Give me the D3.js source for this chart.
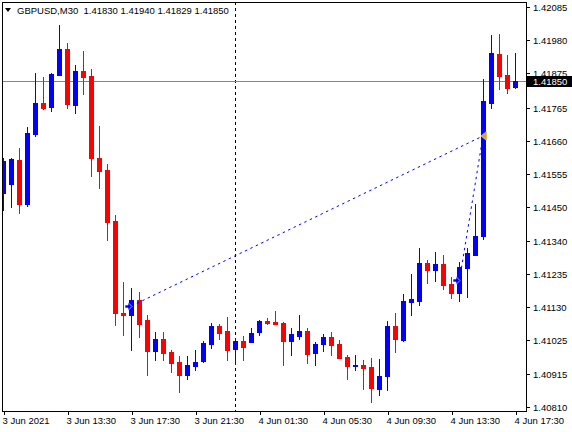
<!DOCTYPE html>
<html><head><meta charset="utf-8">
<script src="https://cdnjs.cloudflare.com/ajax/libs/d3/7.8.5/d3.min.js"></script>
<style>
html,body{margin:0;padding:0;background:#fff;}
svg{display:block;font-family:"Liberation Sans",Arial,sans-serif;}
</style></head>
<body><svg id="c" width="572" height="432"></svg>
<script>
// ---- data ----
const symbol = "GBPUSD,M30";
const xLabels = ["3 Jun 2021","3 Jun 13:30","3 Jun 17:30","3 Jun 21:30","4 Jun 01:30","4 Jun 05:30","4 Jun 09:30","4 Jun 13:30","4 Jun 17:30"];
const yTickLabels = ["1.42085","1.41980","1.41875","1.41765","1.41660","1.41555","1.41450","1.41340","1.41235","1.41130","1.41025","1.40915","1.40810"];
const open  = [1.41493,1.41522,1.41598,1.41458,1.41681,1.41780,1.41767,1.41869,1.41952,1.41774,1.41882,1.41866,1.41605,1.41566,1.41404,1.41111,1.41104,1.41152,1.41088,1.40990,1.41028,1.40986,1.40954,1.40913,1.40942,1.40958,1.41012,1.41069,1.41053,1.40996,1.41021,1.41018,1.41050,1.41085,1.41082,1.41079,1.41021,1.41037,1.41053,1.40983,1.41012,1.41034,1.41012,1.40970,1.40942,1.40945,1.40938,1.40868,1.40910,1.41069,1.41025,1.41146,1.41149,1.41270,1.41248,1.41267,1.41203,1.41174,1.41254,1.41296,1.41356,1.41780,1.41936,1.41869,1.41830];
const high  = [1.41605,1.41605,1.41637,1.41703,1.41876,1.41863,1.41876,1.42029,1.41971,1.41901,1.41946,1.41888,1.41707,1.41586,1.41423,1.41209,1.41190,1.41178,1.41104,1.41050,1.41050,1.40993,1.40974,1.40974,1.40993,1.41021,1.41079,1.41076,1.41098,1.41031,1.41037,1.41063,1.41088,1.41095,1.41117,1.41082,1.41063,1.41104,1.41063,1.41018,1.41044,1.41050,1.41025,1.40977,1.40977,1.40961,1.40967,1.40964,1.41085,1.41111,1.41171,1.41235,1.41318,1.41280,1.41305,1.41296,1.41225,1.41273,1.41318,1.41458,1.41856,1.41997,1.42000,1.41933,1.41940];
const low   = [1.41439,1.41448,1.41429,1.41452,1.41675,1.41761,1.41754,1.41869,1.41764,1.41748,1.41809,1.41547,1.41509,1.41343,1.41072,1.41040,1.40993,1.41034,1.40913,1.40961,1.40961,1.40923,1.40859,1.40900,1.40929,1.40954,1.40999,1.41028,1.40961,1.40948,1.40961,1.41018,1.41040,1.41076,1.41076,1.40945,1.40977,1.41028,1.40951,1.40945,1.40990,1.40977,1.40967,1.40900,1.40929,1.40868,1.40827,1.40849,1.40865,1.40986,1.41021,1.41104,1.41136,1.41206,1.41213,1.41187,1.41158,1.41149,1.41162,1.41296,1.41346,1.41764,1.41825,1.41812,1.41829];
const close = [1.41595,1.41601,1.41458,1.41684,1.41780,1.41764,1.41872,1.41952,1.41777,1.41882,1.41863,1.41605,1.41563,1.41401,1.41111,1.41104,1.41152,1.41076,1.40990,1.41028,1.40983,1.40951,1.40913,1.40945,1.40954,1.41015,1.41069,1.41047,1.40993,1.41021,1.41002,1.41047,1.41085,1.41079,1.41076,1.41021,1.41044,1.41053,1.40980,1.41012,1.41034,1.41009,1.40967,1.40942,1.40945,1.40935,1.40872,1.40910,1.41069,1.41028,1.41149,1.41155,1.41270,1.41248,1.41267,1.41200,1.41174,1.41257,1.41302,1.41356,1.41786,1.41939,1.41866,1.41828,1.41850];
const tradeOpenBar = [16, 57];
const tradeOpenPrice = [1.41133, 1.41216];
const tradeCloseBar = [60, 60];
const tradeClosePrice = [1.41675, 1.41675];
const separatorBar = 29;
const bidPrice = 1.41850;

// ---- layout ----
const W = 572, H = 432;
const L = 2, T = 2, R = 526, B = 411;
const svg = d3.select("#c");
const x = d3.scaleLinear().domain([0, open.length - 1]).range([3, 515]);
const y = d3.scaleLinear().domain([+yTickLabels[yTickLabels.length-1], +yTickLabels[0]]).range([407.3, 7.3]);
const BULL = "#0000ff", BEAR = "#ff0000";

svg.append("defs").append("clipPath").attr("id","plot")
  .append("rect").attr("x", L+1).attr("y", T+1).attr("width", R-L-1).attr("height", B-T-1);

const g = svg.append("g").attr("clip-path","url(#plot)").attr("shape-rendering","crispEdges");

// separator (dashed vertical)
g.append("line")
  .attr("x1", x(separatorBar)+0.5).attr("x2", x(separatorBar)+0.5)
  .attr("y1", T).attr("y2", B)
  .attr("stroke","#000").attr("stroke-dasharray","3,3");

// bid line
g.append("line")
  .attr("x1", L).attr("x2", R)
  .attr("y1", Math.round(y(bidPrice))+0.5).attr("y2", Math.round(y(bidPrice))+0.5)
  .attr("stroke","#778899");

// trade lines
const gt = svg.append("g").attr("clip-path","url(#plot)");
tradeOpenBar.forEach((b, k) => {
  gt.append("line")
    .attr("x1", x(b)+0.5).attr("y1", y(tradeOpenPrice[k]))
    .attr("x2", x(tradeCloseBar[k])).attr("y2", y(tradeClosePrice[k]))
    .attr("stroke", BULL).attr("stroke-width",1).attr("stroke-dasharray","2.5,3.5");
});

// candles
const idx = d3.range(open.length);
const gc = g.append("g");
idx.forEach(i => {
  const col = close[i] >= open[i] ? BULL : BEAR;
  const cx = x(i);
  const yh = Math.round(y(high[i])), yl = Math.round(y(low[i]));
  gc.append("rect").attr("x", cx).attr("y", yh).attr("width", 1).attr("height", Math.max(1, yl - yh + 1)).attr("fill", col);
  const yt = Math.round(y(Math.max(open[i], close[i]))), yb = Math.round(y(Math.min(open[i], close[i])));
  gc.append("rect").attr("x", cx - 2).attr("y", yt).attr("width", 5).attr("height", Math.max(1, yb - yt + 1)).attr("fill", col);
});

// trade markers
tradeOpenBar.forEach((b, k) => {
  const ax = x(b), ay = Math.round(y(tradeOpenPrice[k])) + 0.5;
  const ga = svg.append("g");
  ga.append("path")
    .attr("d", `M${ax-6},${ay-1.5}L${ax-3},${ay-1.5}L${ax-3},${ay-4}L${ax+1},${ay}L${ax-3},${ay+4}L${ax-3},${ay+1.5}L${ax-6},${ay+1.5}Z`)
    .attr("fill", BULL).attr("stroke","#fff").attr("stroke-width",0.6);
});
tradeCloseBar.slice(0,1).forEach((b, k) => {
  const cx = x(b), cy = y(tradeClosePrice[k]);
  svg.append("path")
    .attr("d", `M${cx-2},${cy}L${cx+4},${cy-5}L${cx+4},${cy+5}Z`)
    .attr("fill", "#daa520").attr("stroke","#fff").attr("stroke-width",0.5);
});

// frame
svg.append("rect").attr("x", L+0.5).attr("y", T+0.5).attr("width", R-L).attr("height", B-T)
  .attr("fill","none").attr("stroke","#000").attr("shape-rendering","crispEdges");

// axes
const xAxis = d3.axisBottom(x)
  .tickValues(d3.range(0, open.length, 8))
  .tickFormat((d, i) => xLabels[i])
  .tickSize(4).tickPadding(2);
const gx = svg.append("g").attr("transform", `translate(0.5,${B})`).call(xAxis);
gx.select(".domain").remove();
gx.selectAll("text").attr("text-anchor","start").attr("dx", -1.5).attr("font-size", 9.5).attr("fill","#000")
  .attr("font-family",'"Liberation Sans",Arial,sans-serif');
gx.selectAll("line").attr("stroke","#000").attr("shape-rendering","crispEdges");

const yAxis = d3.axisRight(y)
  .tickValues(yTickLabels.map(Number))
  .tickFormat((d, i) => yTickLabels[i])
  .tickSize(4).tickPadding(3);
const gy = svg.append("g").attr("transform", `translate(${R},0)`).call(yAxis);
gy.select(".domain").remove();
gy.selectAll("text").attr("font-size", 9.5).attr("fill","#000")
  .attr("font-family",'"Liberation Sans",Arial,sans-serif');
gy.selectAll(".tick").attr("transform", d => `translate(0,${Math.round(y(d))+0.5})`);
gy.selectAll("line").attr("stroke","#000").attr("shape-rendering","crispEdges");

// bid label
const by = Math.round(y(bidPrice));
svg.append("rect").attr("x", R+1).attr("y", by-5).attr("width", W-R-1).attr("height", 11).attr("fill","#000");
svg.append("text").attr("x", R+7).attr("y", by+0.5).attr("dy","0.35em")
  .attr("font-size", 9.5).attr("fill","#fff").text(bidPrice.toFixed(5));

// header
svg.append("path").attr("d","M5,8L11,8L8,12Z").attr("fill","#000");
svg.append("text").attr("x", 17).attr("y", 13.5).attr("font-size", 9.5).attr("fill","#000")
  .attr("xml:space","preserve")
  .text(`${symbol}  ${open[open.length-1].toFixed(5)} ${high[high.length-1].toFixed(5)} ${low[low.length-1].toFixed(5)} ${close[close.length-1].toFixed(5)}`);
</script></body></html>
